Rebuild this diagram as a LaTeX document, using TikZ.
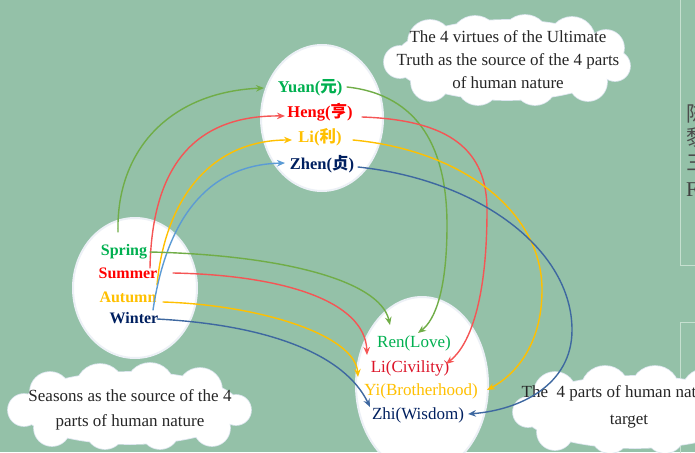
\documentclass[tikz,border=0pt]{standalone}
\usepackage{fontspec}
\setmainfont{Liberation Serif}
\newfontfamily\cjk{Noto Sans CJK SC}
\usetikzlibrary{arrows.meta,shapes.geometric}
\definecolor{bg}{RGB}{148,193,168}
\definecolor{labG}{RGB}{0,176,80}
\definecolor{labR}{RGB}{255,0,0}
\definecolor{labR2}{RGB}{220,20,40}
\definecolor{labY}{RGB}{255,192,0}
\definecolor{labN}{RGB}{0,32,96}
\definecolor{arG}{RGB}{112,173,71}
\definecolor{arR}{RGB}{245,85,85}
\definecolor{arY}{RGB}{255,192,0}
\definecolor{arLB}{RGB}{91,155,213}
\definecolor{arDB}{RGB}{62,104,160}
\definecolor{panel}{RGB}{198,224,208}
\definecolor{cloudedge}{RGB}{222,230,240}
\definecolor{elledge}{RGB}{236,240,246}
\newcommand{\cloudTop}[1]{\path[#1] (507,60) ellipse [x radius=112, y radius=40]
  (430,42) circle [radius=22] (475,40) circle [radius=24] (525,39) circle [radius=24]
  (572,40) circle [radius=23] (606,48) circle [radius=18]
  (400,62) circle [radius=16] (615,66) circle [radius=15]
  (430,82) circle [radius=19] (478,84) circle [radius=21] (535,84) circle [radius=21] (588,82) circle [radius=19];}
\newcommand{\cloudLeft}[1]{\path[#1] (130,408) ellipse [x radius=110, y radius=36]
  (50,392) circle [radius=20] (100,388) circle [radius=24] (150,387) circle [radius=24]
  (200,390) circle [radius=22]
  (24,410) circle [radius=16] (236,410) circle [radius=15]
  (52,428) circle [radius=18] (105,430) circle [radius=19] (160,430) circle [radius=19] (212,428) circle [radius=18];}
\newcommand{\cloudRight}[1]{\path[#1] (635,412) ellipse [x radius=112, y radius=36]
  (555,393) circle [radius=21] (605,390) circle [radius=24] (655,390) circle [radius=24]
  (705,392) circle [radius=23]
  (528,412) circle [radius=15]
  (555,432) circle [radius=18] (610,434) circle [radius=19] (665,434) circle [radius=19];}
\begin{document}
\begin{tikzpicture}[x=1pt,y=-1pt,
  ell/.style={ellipse, inner sep=0pt, fill=white, draw=elledge, line width=2pt},
  toplab/.style={font=\fontsize{16.5}{20}\selectfont\bfseries, inner sep=1pt},
  leftlab/.style={font=\fontsize{16}{20}\selectfont\bfseries, inner sep=1pt},
  botlab/.style={font=\fontsize{17}{20}\selectfont, inner sep=1pt},
  cloudtxt/.style={font=\fontsize{17}{23}\selectfont, align=center, text=black!85, inner sep=0pt},
  con/.style={line width=1.4pt, line cap=round, -{Stealth[length=8pt,width=6.5pt]}},
  panelline/.style={draw=panel, line width=1pt}
]
\clip (0,0) rectangle (695,452);
\fill[bg] (0,0) rectangle (695,452);

% right-hand panels (cut off)
\draw[panelline] (680,-2) -- (680,265) -- (697,265);
\draw[panelline] (697,322) -- (680,322) -- (680,454);
\node[anchor=west, inner sep=0pt, font=\cjk\fontsize{21}{21}\selectfont, text=black!70] (p1) at (686,113) {陈};
\node[anchor=west, inner sep=0pt, font=\cjk\fontsize{21}{21}\selectfont, text=black!70] (p2) at (686,138) {黎};
\node[anchor=west, inner sep=0pt, font=\cjk\fontsize{21}{21}\selectfont, text=black!70] (p3) at (686,163) {三};
\node[anchor=west, inner sep=0pt, font=\fontsize{21}{21}\selectfont, text=black!75] (p4) at (686,190) {F};

% ellipses
\node[ell, minimum width=122pt, minimum height=146pt] (topell) at (322,118) {};
\node[ell, minimum width=124pt, minimum height=140pt] (leftell) at (135,288) {};
\node[ell, minimum width=132pt, minimum height=176pt] (botell) at (422,385) {};

% clouds
\cloudTop{draw=cloudedge, line width=1.6pt}
\cloudTop{fill=white}
\cloudLeft{draw=cloudedge, line width=1.6pt}
\cloudLeft{fill=white}
\cloudRight{draw=cloudedge, line width=1.6pt}
\cloudRight{fill=white}
\node[cloudtxt] (ctop) at (508,60) {The 4 virtues of the Ultimate\\Truth as the source of the 4 parts\\of human nature};
\node[cloudtxt, font=\fontsize{17}{25}\selectfont] (cleft) at (130,410) {Seasons as the source of the 4\\parts of human nature};
\node[cloudtxt, font=\fontsize{17}{27}\selectfont] (cright) at (629,407) {The\ \ 4 parts of human nature as\\target};

% labels
\node[toplab, text=labG] (yuan) at (310,88) {Yuan({\cjk 元})};
\node[toplab, text=labR] (heng) at (320,112) {Heng({\cjk 亨})};
\node[toplab, text=labY] (li) at (320,137) {Li({\cjk 利})};
\node[toplab, text=labN] (zhen) at (322,164) {Zhen({\cjk 贞})};

\node[leftlab, text=labG] (spring) at (124,252) {Spring};
\node[leftlab, text=labR] (summer) at (128,273) {Summer};
\node[leftlab, text=labY] (autumn) at (128,297) {Autumn};
\node[leftlab, text=labN] (winter) at (134,318) {Winter};

\node[botlab, text=labG] (ren) at (414,343) {Ren(Love)};
\node[botlab, text=labR2] (civ) at (410,368) {Li(Civility)};
\node[botlab, text=labY] (yi) at (421,391) {Yi(Brotherhood)};
\node[botlab, text=labN] (zhi) at (418,415) {Zhi(Wisdom)};

% seasons -> virtues
\draw[con, arG] ([shift={(-6,-20)}]spring.center) .. controls (116,150) and (170,92) .. ([shift={(-46,0)}]yuan.center);
\draw[con, arR] ([shift={(22,-5)}]summer.center) .. controls (152,160) and (200,115) .. ([shift={(-35,4)}]heng.center);
\draw[con, arY] ([shift={(29,-12)}]autumn.center) .. controls (165,200) and (210,140) .. ([shift={(-28,3)}]li.center);
\draw[con, arLB] ([shift={(19,-8)}]winter.center) .. controls (165,230) and (200,165) .. ([shift={(-37,-1)}]zhen.center);

% seasons -> parts of human nature
\draw[con, arG] ([shift={(26,0)}]spring.center) .. controls (280,255) and (380,280) .. ([shift={(-24,-18)}]ren.center);
\draw[con, arR] ([shift={(45,0)}]summer.center) .. controls (280,275) and (365,300) .. ([shift={(-43,-13)}]civ.center);
\draw[con, arY] ([shift={(35,5)}]autumn.center) .. controls (260,305) and (355,335) .. ([shift={(-63,-14)}]yi.center);
\draw[con, arDB] ([shift={(23,1)}]winter.center) .. controls (270,325) and (345,355) .. ([shift={(-48,-8)}]zhi.center);

% virtues -> parts of human nature
\draw[con, arG] ([shift={(37,-1)}]yuan.center) .. controls (420,95) and (447,150) .. (447,225) .. controls (447,290) and (435,320) .. ([shift={(4,-10)}]ren.center);
\draw[con, arR] ([shift={(42,5)}]heng.center) .. controls (450,120) and (487,150) .. (487,210) .. controls (487,300) and (470,345) .. ([shift={(36,-4)}]civ.center);
\draw[con, arY] ([shift={(33,3)}]li.center) .. controls (460,150) and (542,210) .. (542,290) .. controls (542,345) and (515,375) .. ([shift={(66,-1)}]yi.center);
\draw[con, arDB] ([shift={(36,3)}]zhen.center) .. controls (480,180) and (572,250) .. (572,330) .. controls (572,385) and (520,410) .. ([shift={(50,-1)}]zhi.center);
\end{tikzpicture}
\end{document}
